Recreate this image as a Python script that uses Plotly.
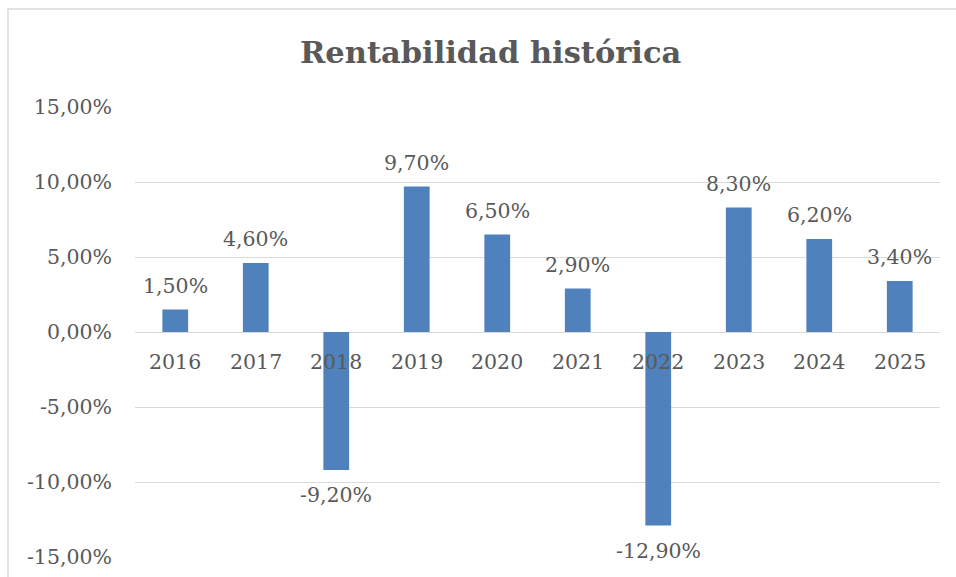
import plotly.graph_objects as go

years = ["2016", "2017", "2018", "2019", "2020", "2021", "2022", "2023", "2024", "2025"]
returns = [1.5, 4.6, -9.2, 9.7, 6.5, 2.9, -12.9, 8.3, 6.2, 3.4]
y_ticks = [-15, -10, -5, 0, 5, 10, 15]
title_text = "Rentabilidad histórica"

def fmt(v):
    return f"{v:.2f}".replace(".", ",") + "%"

FONT = "DejaVu Serif"
TXT = "#595959"
BAR = "#4F81BD"
GRID = "#D9D9D9"
FS = 20.5

W, H = 956, 577
L, R, T, B = 135, 16, 107, 20
pw = W - L - R
ph = H - T - B

fig = go.Figure()
fig.add_trace(go.Bar(
    x=years, y=returns, marker=dict(color=BAR, line=dict(width=0)),
    hoverinfo="skip",
))

annotations = []
for i, (yr, v) in enumerate(zip(years, returns)):
    annotations.append(dict(
        x=i, y=v, xref="x", yref="y", text=fmt(v), showarrow=False,
        yanchor="middle", yshift=24 if v >= 0 else -25,
        font=dict(family=FONT, size=FS, color=TXT),
    ))
    annotations.append(dict(
        x=i, y=0, xref="x", yref="y", text=yr, showarrow=False,
        yanchor="middle", yshift=-30,
        font=dict(family=FONT, size=FS, color=TXT),
    ))

annotations.append(dict(
    x=(490 - L) / pw, y=1 + (T - 52) / ph, xref="paper", yref="paper", text=f"<b>{title_text}</b>",
    showarrow=False, xanchor="center", yanchor="middle",
    font=dict(family=FONT, size=30.5, color=TXT),
))

fig.update_layout(
    width=W, height=H,
    margin=dict(l=L, r=R, t=T, b=B, autoexpand=False),
    paper_bgcolor="white", plot_bgcolor="white",
    bargap=0.68,
    showlegend=False,
    xaxis=dict(type="category", range=[-0.5, len(years) - 0.5], showticklabels=False,
               showgrid=False, zeroline=False, showline=False, ticks=""),
    yaxis=dict(
        range=[-15, 15], tickvals=y_ticks, ticktext=[fmt(v) for v in y_ticks],
        showgrid=True, gridcolor=GRID, gridwidth=1,
        zeroline=True, zerolinecolor=GRID, zerolinewidth=1,
        showline=False, ticks="", ticklabelstandoff=22,
        tickfont=dict(family=FONT, size=FS, color=TXT),
    ),
    annotations=annotations,
    shapes=[dict(
        type="rect", xref="paper", yref="paper",
        x0=(8 - L) / pw, x1=1.2, y0=-0.3, y1=1 + (T - 9) / ph,
        line=dict(color=GRID, width=1.5), fillcolor="rgba(0,0,0,0)", layer="below",
    )],
)

fig.write_html("out.html", config={"displayModeBar": False},
               post_script="document.body.style.margin='0';")
